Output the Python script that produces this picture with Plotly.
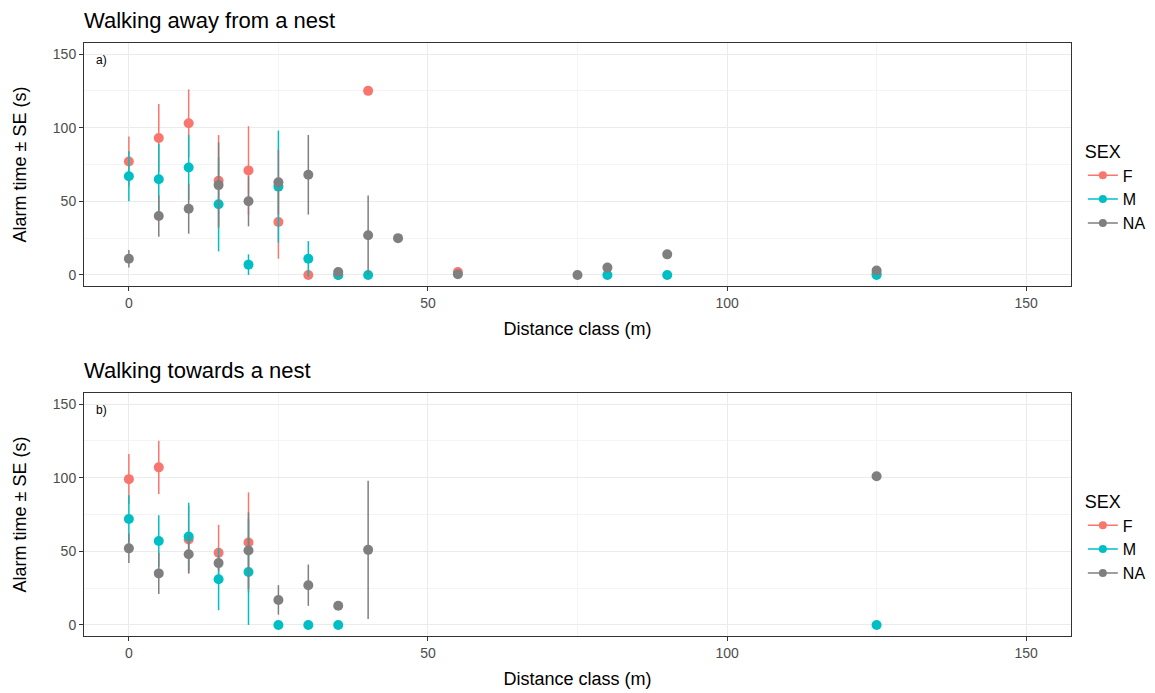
import plotly.graph_objects as go
from plotly.subplots import make_subplots

# a) walking away from a nest
away_f_x = [0, 5, 10, 15, 20, 25, 30, 35, 40, 55, 125]
away_f_y = [77, 93, 103, 64, 71, 36, 0, 0, 125, 2, 1]
away_f_se = [17, 23, 23, 31, 30, 25, 0, 0, 0, 0, 0]

away_m_x = [0, 5, 10, 15, 20, 25, 30, 35, 40, 80, 90, 125]
away_m_y = [67, 65, 73, 48, 7, 60, 11, 0, 0, 0, 0, 0]
away_m_se = [17, 24, 22, 32, 7, 38, 12, 0, 0, 0, 0, 0]

away_na_x = [0, 5, 10, 15, 20, 25, 30, 35, 40, 45, 55, 75, 80, 90, 125]
away_na_y = [11, 40, 45, 61, 50, 63, 68, 2, 27, 25, 0.5, 0, 5, 14, 3]
away_na_se = [6, 14, 17, 29, 17, 22, 27, 0, 27, 0, 0, 0, 0, 0, 0]

# b) walking towards a nest
tow_f_x = [0, 5, 10, 15, 20]
tow_f_y = [99, 107, 58, 49, 56]
tow_f_se = [17, 18, 23, 19, 34]

tow_m_x = [0, 5, 10, 15, 20, 25, 30, 35, 125]
tow_m_y = [72, 57, 60, 31, 36, 0, 0, 0, 0]
tow_m_se = [16, 17.5, 23, 21, 36, 0, 0, 0, 0]

tow_na_x = [0, 5, 10, 15, 20, 25, 30, 35, 40, 125]
tow_na_y = [52, 35, 48, 42, 50.5, 17, 27, 13, 51, 101]
tow_na_se = [10, 14, 13, 5, 26, 10, 14, 0, 47, 0]

sexes = ['F', 'M', 'NA']
colors = {'F': '#F8766D', 'M': '#00BFC4', 'NA': '#7F7F7F'}

panels = [
    ('Walking away from a nest', 'a)', {
        'F': (away_f_x, away_f_y, away_f_se),
        'M': (away_m_x, away_m_y, away_m_se),
        'NA': (away_na_x, away_na_y, away_na_se)}),
    ('Walking towards a nest', 'b)', {
        'F': (tow_f_x, tow_f_y, tow_f_se),
        'M': (tow_m_x, tow_m_y, tow_m_se),
        'NA': (tow_na_x, tow_na_y, tow_na_se)}),
]

FONT = 'Liberation Sans, Arial, sans-serif'
W, H = 1155, 693
# page body has an 8px margin, so margins are offset by it
ML, MR, MT, MB = 76, 86, 35, 65
ph = H - MT - MB

fig = make_subplots(rows=2, cols=1, vertical_spacing=107 / ph)

for i, (title, tag, data) in enumerate(panels):
    row = i + 1
    leg = 'legend' if i == 0 else 'legend2'
    for s in sexes:
        x, y, se = data[s]
        fig.add_trace(go.Scatter(
            x=x, y=y, mode='markers', showlegend=False,
            marker=dict(color=colors[s], size=10),
            error_y=dict(type='data', array=se, color=colors[s],
                         thickness=1.5, width=0),
        ), row=row, col=1)
    for s in sexes:
        fig.add_trace(go.Scatter(
            x=[None], y=[None], mode='lines+markers', name=s, legend=leg,
            marker=dict(color=colors[s], size=8),
            line=dict(color=colors[s], width=1.5),
        ), row=row, col=1)

    xa = 'x' if i == 0 else 'x2'
    ya = 'y' if i == 0 else 'y2'
    fig.add_annotation(text=title, xref=xa + ' domain', yref=ya + ' domain',
                       x=0, y=1, xanchor='left', yanchor='bottom',
                       xshift=-2, yshift=8, showarrow=False,
                       font=dict(size=22, color='black', family=FONT))
    fig.add_annotation(text=tag, xref=xa + ' domain', yref=ya + ' domain',
                       x=0, y=1, xanchor='left', yanchor='top',
                       xshift=10, yshift=-8, showarrow=False,
                       font=dict(size=12, color='black', family=FONT))

axis_common = dict(
    showline=True, linecolor='#333333', linewidth=1, mirror=True,
    ticks='outside', ticklen=4, tickcolor='#333333',
    tickfont=dict(size=14, color='#4D4D4D', family=FONT),
    gridcolor='#EBEBEB', gridwidth=1, zeroline=False, automargin=False,
    minor=dict(showgrid=True, gridcolor='#F4F4F4', gridwidth=1, dtick=25, tick0=25),
)
for r in (1, 2):
    fig.update_xaxes(range=[-7.5, 157.5], tickvals=[0, 50, 100, 150],
                     title=dict(text='Distance class (m)', standoff=12,
                                font=dict(size=18, color='black', family=FONT)),
                     row=r, col=1, **axis_common)
    fig.update_yaxes(range=[-7.5, 157.5], tickvals=[0, 50, 100, 150],
                     title=dict(text='Alarm time ± SE (s)', standoff=21,
                                font=dict(size=18, color='black', family=FONT)),
                     row=r, col=1, **axis_common)

legend_common = dict(
    title=dict(text='SEX', font=dict(size=18, color='black', family=FONT)),
    font=dict(size=16, color='black', family=FONT),
    xanchor='left', yanchor='middle', x=1.012, bgcolor='rgba(0,0,0,0)',
    tracegroupgap=0, itemwidth=30,
)
top_dom = fig.layout.yaxis.domain
bot_dom = fig.layout.yaxis2.domain
shift = 23 / ph
fig.update_layout(
    width=W, height=H,
    margin=dict(l=ML, r=MR, t=MT, b=MB),
    plot_bgcolor='white', paper_bgcolor='white',
    font=dict(family=FONT),
    legend=dict(y=(top_dom[0] + top_dom[1]) / 2 - shift, **legend_common),
    legend2=dict(y=(bot_dom[0] + bot_dom[1]) / 2 - shift, **legend_common),
)

fig.write_html('out.html')
